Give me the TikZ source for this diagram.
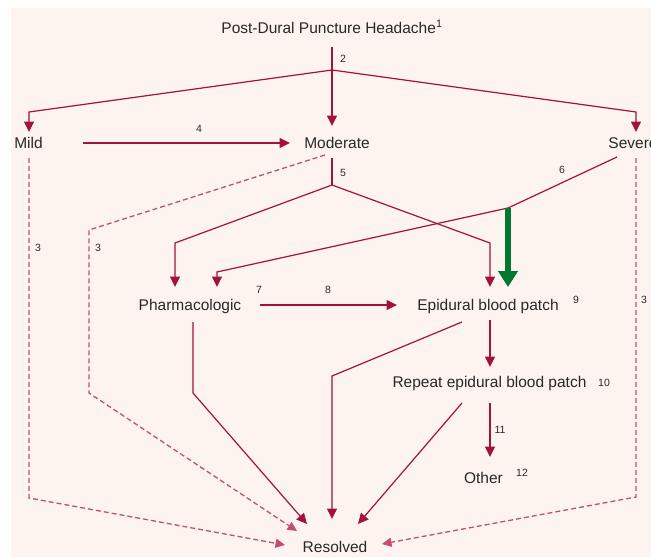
\documentclass[tikz,border=0pt]{standalone}
\usepackage{fontspec}
\setmainfont{Liberation Sans}
\usetikzlibrary{arrows.meta}
\definecolor{bgpink}{RGB}{253,244,239}
\definecolor{crim}{RGB}{163,18,58}
\definecolor{dashcrim}{RGB}{198,76,114}
\definecolor{grn}{RGB}{0,120,50}
\definecolor{txt}{RGB}{40,40,40}
\begin{document}
\begin{tikzpicture}[x=1pt,y=-1pt,
  lbl/.style={anchor=base,inner sep=0pt,text=txt,font=\fontsize{15.5}{18}\selectfont},
  num/.style={inner sep=0pt,text=txt,font=\fontsize{10.5}{12}\selectfont},
  plainline/.style={draw=crim,line width=1.2pt},
  link/.style={plainline,-{Triangle[length=10.5pt,width=10pt]}},
  dlink/.style={draw=dashcrim,line width=1.3pt,dash pattern=on 5pt off 3pt,-{Triangle[length=9.5pt,width=9pt]}},
  boldlink/.style={draw=grn,line width=6.5pt,-{Triangle[length=16pt,width=19pt]}}
]
\useasboundingbox (0,0) rectangle (651,557);
\fill[bgpink] (11,8) rectangle (651,557);

% text nodes
\node[lbl] (title) at (332,33) {Post-Dural Puncture Headache\textsuperscript{1}};
\node[lbl] (mild) at (28.5,148) {Mild};
\node[lbl] (moderate) at (337,148) {Moderate};
\node[lbl] (severe) at (633,148) {Severe};
\node[lbl] (pharm) at (190,310) {Pharmacologic};
\node[lbl] (epi) at (488,310) {Epidural blood patch};
\node[lbl] (repeat) at (489.5,387) {Repeat epidural blood patch};
\node[lbl] (other) at (483.5,483) {Other};
\node[lbl] (resolved) at (335,552) {Resolved};

% number labels
\node[num] (n2) at (343,59) {2};
\node[num] (n4) at (199,129) {4};
\node[num] (n5) at (343,173) {5};
\node[num] (n6) at (562,170) {6};
\node[num] (n3a) at (38,248) {3};
\node[num] (n3b) at (98,248) {3};
\node[num] (n3c) at (644,300) {3};
\node[num] (n7) at (259,290) {7};
\node[num] (n8) at (328,290) {8};
\node[num] (n9) at (576,300) {9};
\node[num] (n10) at (604,383) {10};
\node[num] (n11) at (500,430) {11};
\node[num] (n12) at (522,473) {12};

% junctions and connector ends
\coordinate (titleOut) at (332,47);
\coordinate (j2) at (332,70);
\coordinate (mildIn) at (29,132);
\coordinate (modIn) at (332,126);
\coordinate (sevIn) at (636,132);
\coordinate (mildR) at (83,143);
\coordinate (modL) at (290,143);
\coordinate (modOut) at (332,158);
\coordinate (j5) at (332,185);
\coordinate (pharmInL) at (175,287);
\coordinate (pharmInR) at (217,287);
\coordinate (epiInL) at (490,287);
\coordinate (epiInR) at (508,287);
\coordinate (sevOut) at (617,157);
\coordinate (j6) at (508,208);
\coordinate (pharmR) at (260,305);
\coordinate (epiL) at (397,305);
\coordinate (epiOut) at (490,320);
\coordinate (repIn) at (490,367);
\coordinate (repOut) at (490,403);
\coordinate (otherIn) at (490,457);
\coordinate (mildOut) at (29,158);
\coordinate (modDash) at (325,155);
\coordinate (sevDash) at (636,158);
\coordinate (pharmOut) at (193,322);
\coordinate (epiOut2) at (462,322);
\coordinate (repOut2) at (462,403);
\coordinate (resA) at (285,545);
\coordinate (resB) at (297,531);
\coordinate (resC) at (307,524);
\coordinate (resD) at (332,519);
\coordinate (resE) at (358,524);
\coordinate (resF) at (382,544);

% connectors
\draw[plainline] (titleOut) -- (j2);
\draw[link] (j2) -- (29,112) -- (mildIn);
\draw[link] (j2) -- (modIn);
\draw[link] (j2) -- (636,112) -- (sevIn);
\draw[link] (mildR) -- (modL);
\draw[plainline] (modOut) -- (j5);
\draw[link] (j5) -- (175,243) -- (pharmInL);
\draw[link] (j5) -- (490,243) -- (epiInL);
\draw[plainline] (sevOut) -- (j6);
\draw[link] (j6) -- (217,272) -- (pharmInR);
\draw[boldlink] (j6) -- (epiInR);
\draw[link] (pharmR) -- (epiL);
\draw[link] (epiOut) -- (repIn);
\draw[link] (repOut) -- (otherIn);

\draw[dlink] (mildOut) -- (29,498) -- (resA);
\draw[dlink] (modDash) -- (89,230) -- (89,393) -- (resB);
\draw[link] (pharmOut) -- (193,393) -- (resC);
\draw[link] (epiOut2) -- (332,376) -- (resD);
\draw[link] (repOut2) -- (resE);
\draw[dlink] (sevDash) -- (636,497) -- (resF);
\end{tikzpicture}
\end{document}
